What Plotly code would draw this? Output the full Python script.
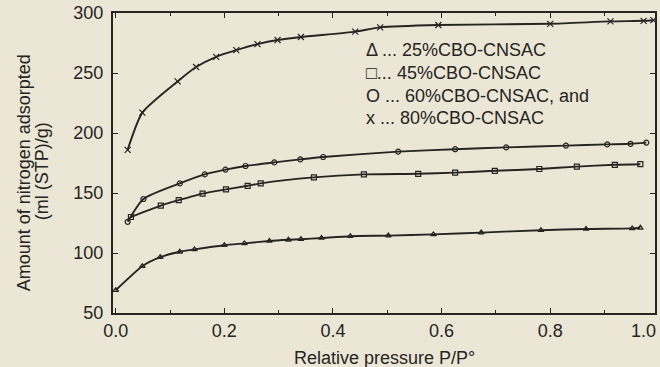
import plotly.graph_objects as go

# ---- data ----
p80 = [0.022, 0.049, 0.114, 0.148, 0.185, 0.222, 0.261, 0.298, 0.341, 0.441, 0.487, 0.594, 0.80, 0.911, 0.972, 0.99]
v80 = [186, 217, 243, 255, 263.5, 269, 274, 277.5, 280, 284.5, 288, 290, 291, 293, 293.5, 294]

p60 = [0.022, 0.051, 0.118, 0.164, 0.202, 0.239, 0.292, 0.340, 0.382, 0.52, 0.625, 0.719, 0.829, 0.905, 0.948, 0.977]
v60 = [126, 145, 158, 165.5, 169.5, 172.5, 175.5, 178, 180, 184.5, 186.5, 188, 189.5, 190.5, 191, 192]

p45 = [0.028, 0.083, 0.116, 0.160, 0.203, 0.243, 0.267, 0.365, 0.457, 0.557, 0.625, 0.698, 0.78, 0.849, 0.919, 0.966]
v45 = [130, 139.5, 144, 149.5, 153, 156, 158, 163, 165.5, 166, 167, 168.5, 170, 172, 173.5, 174]

p25 = [0.0, 0.049, 0.082, 0.118, 0.145, 0.2, 0.237, 0.283, 0.318, 0.341, 0.379, 0.432, 0.502, 0.585, 0.673, 0.783, 0.866, 0.951, 0.966]
v25 = [69, 89, 96.5, 101, 103, 106.5, 108, 110, 111, 111.5, 112.5, 114, 114.5, 115.5, 117, 119, 120, 120.5, 121]

legend_lines = ["Δ ... 25%CBO-CNSAC", "□... 45%CBO-CNSAC", "O ... 60%CBO-CNSAC, and", "x ... 80%CBO-CNSAC"]
x_ticks = [0.0, 0.2, 0.4, 0.6, 0.8]
x_last_label = "1.0"
y_ticks = [50, 100, 150, 200, 250, 300]

ink = "#262522"
paper = "#ebe6d6"
font = "Liberation Sans, Arial, sans-serif"
FS = 18

# plot area in pixels
L, R, T, B = 113, 657, 13, 313
W, H = 660, 367
PW, PH = R - L, B - T

def px_x(p):
    return (p - L) / PW

def px_y(p):
    return 1 - (p - T) / PH

fig = go.Figure()
series = [
    (p80, v80, "x-thin", 6),
    (p60, v60, "circle-open", 5),
    (p45, v45, "square-open", 5),
    (p25, v25, "triangle-up-open", 5),
]
for px, py, sym, sz in series:
    fig.add_trace(go.Scatter(
        x=px, y=py, mode="lines+markers",
        line=dict(color=ink, width=1.9, shape="spline", smoothing=0.6),
        marker=dict(symbol=sym, size=sz, color=ink, line=dict(color=ink, width=1.2)),
        showlegend=False, hoverinfo="skip", cliponaxis=False))

axis_common = dict(
    showline=True, linecolor=ink, linewidth=2, mirror="allticks",
    ticks="inside", ticklen=5, tickwidth=1.2, tickcolor=ink,
    showgrid=False, zeroline=False,
    tickfont=dict(family=font, size=FS, color=ink),
)
fig.update_xaxes(range=[-0.005, 0.993], tickvals=x_ticks,
                 ticktext=[f"{t:.1f}" for t in x_ticks],
                 minor=dict(tickvals=[0.1, 0.3, 0.5, 0.7, 0.9], ticks="inside", ticklen=3, tickcolor=ink),
                 **axis_common)
fig.update_yaxes(range=[50, 300], tickvals=y_ticks, ticklabelstandoff=4, **axis_common)

annotations = []
for ypix, t in zip([50, 72.5, 95.5, 118], legend_lines):
    annotations.append(dict(
        x=px_x(365), y=px_y(ypix), xref="paper", yref="paper",
        text=t, showarrow=False, xanchor="left", yanchor="middle",
        font=dict(family=font, size=FS, color=ink)))

# last x tick label (sits just inside the frame in the original)
annotations.append(dict(
    x=px_x(645), y=px_y(331), xref="paper", yref="paper",
    text=x_last_label, showarrow=False, xanchor="center", yanchor="middle",
    font=dict(family=font, size=FS, color=ink)))

annotations.append(dict(
    x=px_x(385), y=px_y(358), xref="paper", yref="paper",
    text="Relative pressure P/P°", showarrow=False, xanchor="center", yanchor="middle",
    font=dict(family=font, size=FS, color=ink)))
annotations.append(dict(
    x=px_x(23.5), y=px_y(172.5), xref="paper", yref="paper",
    text="Amount of nitrogen adsorpted", showarrow=False, textangle=-90,
    xanchor="center", yanchor="middle",
    font=dict(family=font, size=FS, color=ink)))
annotations.append(dict(
    x=px_x(41.5), y=px_y(171.5), xref="paper", yref="paper",
    text="(ml (STP)/g)", showarrow=False, textangle=-90,
    xanchor="center", yanchor="middle",
    font=dict(family=font, size=FS, color=ink)))

fig.update_layout(
    width=W, height=H,
    margin=dict(l=L, r=W - R, t=T, b=H - B),
    paper_bgcolor=paper, plot_bgcolor=paper,
    annotations=annotations,
    font=dict(family=font, color=ink),
)

fig.write_html("out.html", config={"displayModeBar": False},
               post_script="document.body.style.margin='0';document.body.style.background='%s';" % paper)
